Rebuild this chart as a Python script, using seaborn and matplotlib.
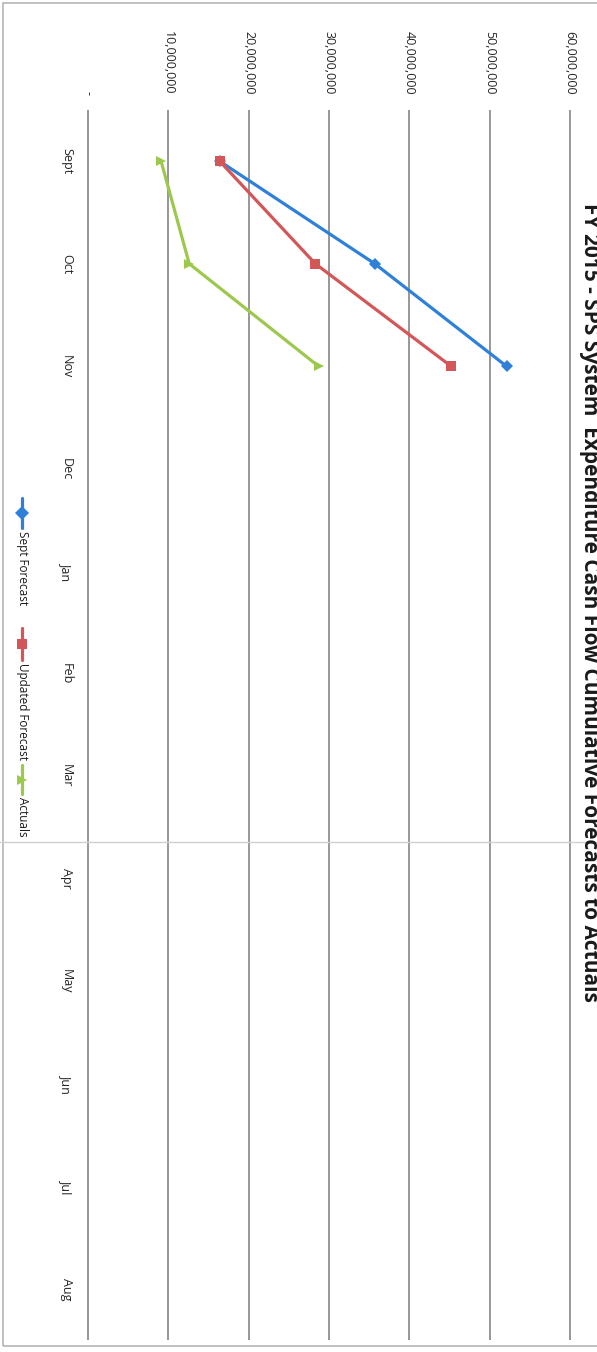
import pandas as pd
import seaborn as sns
import matplotlib.pyplot as plt
from matplotlib.lines import Line2D
from matplotlib.patches import Rectangle

# chart data (cumulative spend)
months = ['Sept', 'Oct', 'Nov', 'Dec', 'Jan', 'Feb', 'Mar', 'Apr', 'May', 'Jun', 'Jul', 'Aug']
sept_forecast = [16.4e6, 35.7e6, 52.1e6]
updated_forecast = [16.4e6, 28.3e6, 45.2e6]
actuals = [9.1e6, 12.6e6, 28.7e6]
series_names = ['Sept Forecast', 'Updated Forecast', 'Actuals']
value_ticks = [0, 10e6, 20e6, 30e6, 40e6, 50e6, 60e6]
value_labels = ['-', '10,000,000', '20,000,000', '30,000,000', '40,000,000', '50,000,000', '60,000,000']
title = 'FY 2015 - SPS System  Expenditure Cash Flow Cumulative Forecasts to Actuals'

colors = ['#2f80d8', '#d35658', '#9cc84e']
markers = ['D', 's', '>']

rows = []
for name, vals in zip(series_names, [sept_forecast, updated_forecast, actuals]):
    for i, v in enumerate(vals):
        rows.append({'series': name, 'month': i, 'value': v})
df = pd.DataFrame(rows)

sns.set_style('white')
plt.rcParams['font.family'] = ['Open Sans', 'DejaVu Sans']

W, H = 597, 1352
fig = plt.figure(figsize=(W / 100, H / 100), dpi=100)
px = 80.3 / 10e6  # pixels per unit value
ax = fig.add_axes([(88 - 1e6 * px) / W, 1 - 1340 / H, (482 + 2e6 * px) / W, 1230 / H])

# the original chart is scanned sideways: values run left->right, months top->bottom
sns.lineplot(data=df, x='value', y='month', hue='series', style='series',
             palette=dict(zip(series_names, colors)),
             markers=dict(zip(series_names, markers)), dashes=False,
             orient='y', sort=False, lw=2.3, markersize=6.5, markeredgewidth=0,
             legend=False, ax=ax)

ax.set_xlim(-1e6, 61e6)
ax.set_ylim(11.5, -0.5)
ax.xaxis.tick_top()
ax.set_xticks(value_ticks, value_labels, rotation=-90, fontsize=9)
ax.set_yticks(range(len(months)), months, rotation=-90, fontsize=9)
for lab in ax.get_yticklabels():
    lab.set_va('center')
ax.tick_params(axis='x', length=0, pad=11)
ax.tick_params(axis='y', length=0, pad=5)
ax.grid(axis='x', color='#7a7a7a', lw=1.1)
ax.grid(axis='y', visible=False)
ax.set_xlabel('')
ax.set_ylabel('')
for s in ax.spines.values():
    s.set_visible(False)

# title, rotated along the right edge (partly cut off in the scan)
fig.text(584 / W, 1 - 602 / H, title, rotation=-90, rotation_mode='anchor',
         ha='center', va='baseline', fontsize=15, fontweight='bold', color='#1a1a1a')

# legend, drawn sideways to match the scan
leg = [(498, 528, 531), (628, 660, 663), (765, 794, 797)]
for name, c, m, (y0, y1, yt) in zip(series_names, colors, markers, leg):
    fig.add_artist(Line2D([22 / W, 22 / W], [1 - y0 / H, 1 - y1 / H], color=c, lw=2.3))
    fig.add_artist(Line2D([22 / W], [1 - (y0 + y1) / 2 / H], color=c, marker=m,
                          markersize=7, markeredgewidth=0))
    fig.text(22 / W, 1 - yt / H, name, rotation=-90, ha='center', va='top',
             fontsize=8.5, color='#1a1a1a')

# chart border (runs off the right edge) and scanner fold line
fig.add_artist(Rectangle((3 / W, 1 - 1346 / H), 1.1, 1343 / H, transform=fig.transFigure,
                         fill=False, edgecolor='#b5b5b5', lw=1.2))
fig.add_artist(Line2D([0, 1], [1 - 842 / H, 1 - 842 / H], color='#d0d0d0', lw=1))

fig.savefig('out.png', dpi=100)
